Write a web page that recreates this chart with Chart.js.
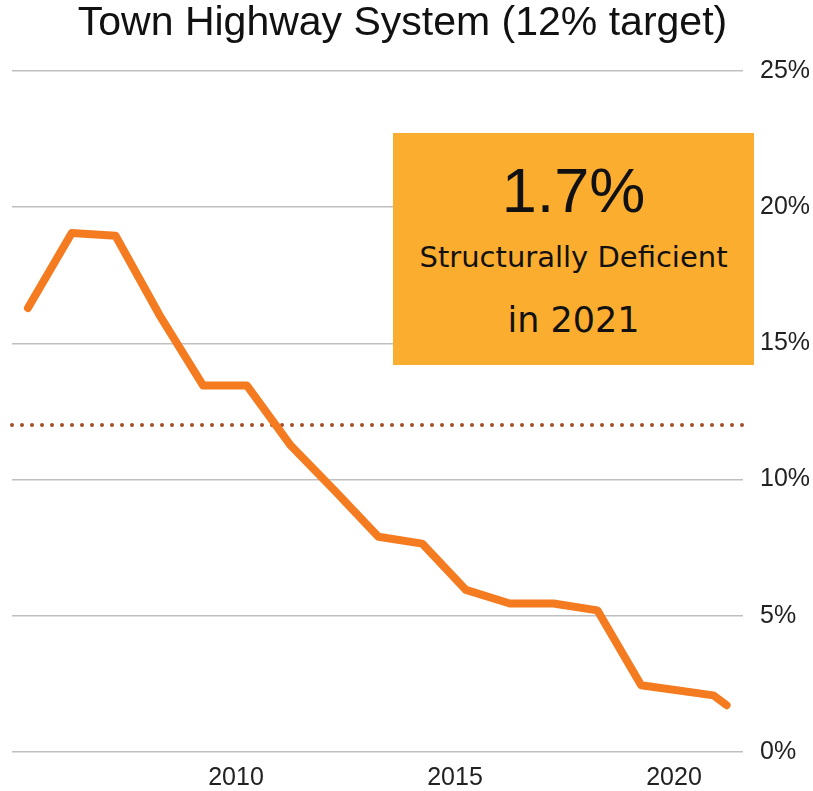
<!DOCTYPE html>
<html>
    <head>
        <title>Town Highway System</title>
        <meta charset="UTF-8">
        <style>
            body { margin: 0; background: white; }
            #holder { position: relative; width: 813px; height: 791px; }
            #titulo {
                position: absolute; left: 0; top: 1px; width: 805px;
                text-align: center; font: 41px/1 "Liberation Sans", Arial, sans-serif; color: #111;
            }
            #caja {
                position: absolute; left: 393px; top: 133px; width: 361px; height: 232px;
                background: #FBAD2F; color: #111; text-align: center;
            }
            #caja div { position: absolute; left: 0; width: 100%; white-space: nowrap; }
            #pct { top: 26px; font: 63px/1 "Liberation Sans", Arial, sans-serif; }
            #linea1 { top: 110px; font: 29px/1 "DejaVu Sans", sans-serif; }
            #linea2 { top: 170px; font: 35px/1 "DejaVu Sans", sans-serif; }
        </style>
    </head>
    <body>
        <div id="holder">
            <canvas id="grafica" width="813" height="791"></canvas>
            <div id="titulo">Town Highway System (12% target)</div>
            <div id="caja">
                <div id="pct">1.7%</div>
                <div id="linea1">Structurally Deficient</div>
                <div id="linea2">in 2021</div>
            </div>
        </div>

        <script src="https://cdn.jsdelivr.net/npm/chart.js@4"></script>
        <script>
            // data (x = year, points sit around April)
            var years = [2005.25, 2006.25, 2007.25, 2008.25, 2009.25, 2010.25, 2011.25, 2012.25, 2013.25,
                         2014.25, 2015.25, 2016.25, 2017.25, 2018.25, 2019.25, 2020.9, 2021.2];
            var deficientPct = [16.3, 19.05, 18.95, 16.05, 13.45, 13.45, 11.25, 9.6, 7.9,
                                7.65, 5.95, 5.45, 5.45, 5.2, 2.45, 2.08, 1.72];
            var targetPct = 12;
            var xMin = 2004.886, xMax = 2021.575;
            var xTickYears = [2010, 2015, 2020];
            var yTicks = [0, 5, 10, 15, 20, 25];

            var serie = years.map(function (y, i) { return {x: y, y: deficientPct[i]}; });
            var meta = [{x: xMin, y: targetPct}, {x: xMax, y: targetPct}];

            var ctx = document.getElementById("grafica").getContext("2d");
            new Chart(ctx, {
                type: "line",
                data: {
                    datasets: [{
                            label: "Structurally deficient",
                            data: serie,
                            borderColor: "#F47B20",
                            borderWidth: 8,
                            borderCapStyle: "round",
                            borderJoinStyle: "round",
                            pointRadius: 0,
                            tension: 0
                        }, {
                            label: "Target",
                            data: meta,
                            borderColor: "#A34E29",
                            borderWidth: 4,
                            borderDash: [0, 10],
                            borderCapStyle: "round",
                            pointRadius: 0,
                            clip: false
                        }]
                },
                options: {
                    responsive: false,
                    animation: false,
                    events: [],
                    layout: {padding: {left: 12, right: 3, top: 71, bottom: 0}},
                    plugins: {legend: {display: false}, tooltip: {enabled: false}},
                    scales: {
                        x: {
                            type: "linear",
                            min: xMin,
                            max: xMax,
                            afterBuildTicks: function (scale) {
                                scale.ticks = xTickYears.map(function (v) { return {value: v}; });
                            },
                            afterFit: function (scale) { scale.height = 39; },
                            grid: {display: false, drawTicks: false, tickLength: 0},
                            border: {display: false},
                            ticks: {
                                padding: 14,
                                color: "#222",
                                font: {family: "Liberation Sans", size: 25, lineHeight: 1},
                                callback: function (v) { return String(v); }
                            }
                        },
                        y: {
                            position: "right",
                            min: 0,
                            max: 25,
                            afterBuildTicks: function (scale) {
                                scale.ticks = yTicks.map(function (v) { return {value: v}; });
                            },
                            afterFit: function (scale) { scale.width = 67; },
                            grid: {color: "#BFBFBF", lineWidth: 1.5, drawTicks: false, tickLength: 0},
                            border: {display: false},
                            ticks: {
                                padding: 17,
                                color: "#222",
                                font: {family: "Liberation Sans", size: 25, lineHeight: 1},
                                callback: function (v) { return v + "%"; }
                            }
                        }
                    }
                }
            });
        </script>
    </body>
</html>
